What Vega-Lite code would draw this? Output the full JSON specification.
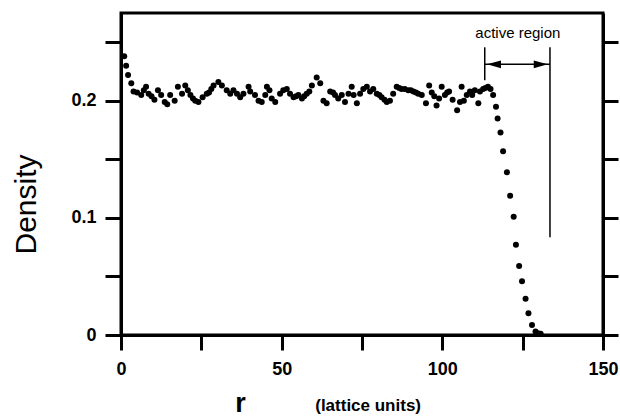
{
  "$schema": "https://vega.github.io/schema/vega-lite/v6.json",
  "width": 482,
  "height": 322,
  "autosize": {"type": "none"},
  "padding": {"left": 121, "top": 13, "right": 17, "bottom": 82},
  "background": "white",
  "config": {
    "font": "Liberation Sans",
    "view": {"stroke": "black", "strokeWidth": 3},
    "axis": {
      "grid": false,
      "domainColor": "black",
      "domainWidth": 3,
      "tickColor": "black",
      "tickWidth": 3,
      "tickSize": 15,
      "labelFont": "Liberation Sans",
      "labelFontWeight": "bold",
      "labelFontSize": 18,
      "labelColor": "black",
      "titleFont": "Liberation Sans",
      "titleColor": "black"
    }
  },
  "datasets": {
    "density": [
      {"r": 1.0, "density": 0.238}, {"r": 1.6, "density": 0.230}, {"r": 2.2, "density": 0.222}, {"r": 3.2, "density": 0.215},
      {"r": 3.9, "density": 0.208}, {"r": 5.0, "density": 0.207}, {"r": 6.3, "density": 0.205}, {"r": 7.1, "density": 0.209},
      {"r": 7.8, "density": 0.212}, {"r": 8.6, "density": 0.206}, {"r": 9.5, "density": 0.204}, {"r": 10.4, "density": 0.201},
      {"r": 11.5, "density": 0.209}, {"r": 12.5, "density": 0.205}, {"r": 13.6, "density": 0.199}, {"r": 14.4, "density": 0.197},
      {"r": 15.3, "density": 0.205}, {"r": 16.7, "density": 0.200}, {"r": 17.7, "density": 0.212}, {"r": 19.0, "density": 0.206},
      {"r": 20.0, "density": 0.213}, {"r": 20.8, "density": 0.209}, {"r": 21.6, "density": 0.205}, {"r": 22.4, "density": 0.202},
      {"r": 23.1, "density": 0.200}, {"r": 24.1, "density": 0.199}, {"r": 25.4, "density": 0.203}, {"r": 26.7, "density": 0.206},
      {"r": 27.4, "density": 0.207}, {"r": 28.1, "density": 0.210}, {"r": 28.8, "density": 0.213}, {"r": 30.3, "density": 0.216},
      {"r": 31.4, "density": 0.213}, {"r": 32.9, "density": 0.209}, {"r": 34.0, "density": 0.206}, {"r": 35.0, "density": 0.209},
      {"r": 36.1, "density": 0.206}, {"r": 37.1, "density": 0.203}, {"r": 38.1, "density": 0.206}, {"r": 39.7, "density": 0.212},
      {"r": 40.2, "density": 0.208}, {"r": 41.7, "density": 0.205}, {"r": 42.8, "density": 0.200}, {"r": 43.8, "density": 0.199},
      {"r": 44.9, "density": 0.205}, {"r": 45.4, "density": 0.212}, {"r": 46.2, "density": 0.209}, {"r": 46.9, "density": 0.202},
      {"r": 48.0, "density": 0.199}, {"r": 49.5, "density": 0.206}, {"r": 50.5, "density": 0.209}, {"r": 51.6, "density": 0.210},
      {"r": 52.6, "density": 0.206}, {"r": 53.7, "density": 0.203}, {"r": 54.5, "density": 0.204}, {"r": 55.2, "density": 0.205},
      {"r": 56.3, "density": 0.202}, {"r": 57.0, "density": 0.204}, {"r": 57.8, "density": 0.206}, {"r": 58.6, "density": 0.208},
      {"r": 59.4, "density": 0.213}, {"r": 60.9, "density": 0.220}, {"r": 62.0, "density": 0.215}, {"r": 63.0, "density": 0.200},
      {"r": 64.0, "density": 0.198}, {"r": 65.1, "density": 0.208}, {"r": 66.0, "density": 0.207}, {"r": 66.6, "density": 0.205},
      {"r": 67.6, "density": 0.202}, {"r": 68.7, "density": 0.205}, {"r": 69.7, "density": 0.199}, {"r": 70.8, "density": 0.206},
      {"r": 71.8, "density": 0.212}, {"r": 72.4, "density": 0.205}, {"r": 73.4, "density": 0.198}, {"r": 74.4, "density": 0.206},
      {"r": 75.4, "density": 0.210}, {"r": 76.5, "density": 0.212}, {"r": 77.5, "density": 0.208}, {"r": 78.5, "density": 0.210},
      {"r": 79.6, "density": 0.206}, {"r": 80.4, "density": 0.205}, {"r": 81.1, "density": 0.203}, {"r": 82.0, "density": 0.201},
      {"r": 82.7, "density": 0.199}, {"r": 83.7, "density": 0.200}, {"r": 84.7, "density": 0.206}, {"r": 85.8, "density": 0.212},
      {"r": 86.6, "density": 0.211}, {"r": 87.3, "density": 0.210}, {"r": 88.3, "density": 0.210}, {"r": 89.4, "density": 0.209},
      {"r": 90.2, "density": 0.209}, {"r": 91.0, "density": 0.208}, {"r": 91.8, "density": 0.207}, {"r": 92.5, "density": 0.206},
      {"r": 93.6, "density": 0.205}, {"r": 94.9, "density": 0.198}, {"r": 95.9, "density": 0.213}, {"r": 96.7, "density": 0.207},
      {"r": 97.5, "density": 0.204}, {"r": 98.2, "density": 0.196}, {"r": 99.0, "density": 0.202}, {"r": 99.8, "density": 0.212},
      {"r": 100.8, "density": 0.205}, {"r": 101.5, "density": 0.207}, {"r": 102.1, "density": 0.208}, {"r": 103.2, "density": 0.201},
      {"r": 104.6, "density": 0.192}, {"r": 105.5, "density": 0.199}, {"r": 106.0, "density": 0.212}, {"r": 106.7, "density": 0.200},
      {"r": 107.6, "density": 0.205}, {"r": 108.6, "density": 0.208}, {"r": 109.3, "density": 0.205}, {"r": 110.1, "density": 0.209},
      {"r": 111.2, "density": 0.198}, {"r": 111.7, "density": 0.208}, {"r": 112.7, "density": 0.210}, {"r": 113.4, "density": 0.211},
      {"r": 114.2, "density": 0.212}, {"r": 115.0, "density": 0.210}, {"r": 115.8, "density": 0.205}, {"r": 116.7, "density": 0.195},
      {"r": 117.2, "density": 0.185}, {"r": 118.1, "density": 0.173}, {"r": 118.9, "density": 0.157}, {"r": 120.1, "density": 0.139},
      {"r": 121.1, "density": 0.119}, {"r": 122.2, "density": 0.101}, {"r": 122.9, "density": 0.077}, {"r": 123.9, "density": 0.059},
      {"r": 124.8, "density": 0.046}, {"r": 125.9, "density": 0.031}, {"r": 126.8, "density": 0.0185}, {"r": 127.9, "density": 0.0085},
      {"r": 129.0, "density": 0.003}, {"r": 129.8, "density": 0.0015}, {"r": 130.6, "density": 0.001}
    ],
    "vlines": [
      {"r": 113.2, "top": 0.2457, "bottom": 0.2176},
      {"r": 133.5, "top": 0.2457, "bottom": 0.0834}
    ],
    "arrow": [
      {"from": 113.2, "to": 133.5, "y": 0.2312}
    ],
    "heads": [
      {"r": 113.9, "y": 0.2312, "dir": "left"},
      {"r": 132.8, "y": 0.2312, "dir": "right"}
    ],
    "labels": [
      {"r": 123.5, "y": 0.2537, "label": "active region"}
    ],
    "units": [
      {"r": 76.9, "y": -0.0645, "label": "(lattice units)"}
    ]
  },
  "layer": [
    {
      "data": {"name": "density"},
      "mark": {"type": "point", "filled": true, "shape": "circle", "size": 36, "color": "black", "opacity": 1},
      "encoding": {
        "x": {
          "field": "r", "type": "quantitative",
          "scale": {"domain": [0, 150], "nice": false, "zero": false},
          "axis": {
            "orient": "bottom",
            "values": [0, 25, 50, 75, 100, 125, 150],
            "labelExpr": "datum.value % 50 == 0 ? datum.label : ''",
            "labelFlush": false,
            "labelOverlap": false,
            "labelPadding": 10,
            "tickSize": 15,
            "title": "r",
            "titleFontSize": 27,
            "titleFontWeight": "bold",
            "titleX": 119,
            "titleY": 76,
            "titleBaseline": "alphabetic",
            "titleAlign": "center"
          }
        },
        "y": {
          "field": "density", "type": "quantitative",
          "scale": {"domain": [0, 0.275], "nice": false, "zero": false},
          "axis": {
            "values": [0, 0.05, 0.1, 0.15, 0.2, 0.25],
            "labelExpr": "datum.value == 0 ? '0' : (datum.value == 0.1 || datum.value == 0.2) ? format(datum.value, '.1f') : ''",
            "labelOverlap": false,
            "labelPadding": 9,
            "tickSize": 16,
            "title": "Density",
            "titleFontSize": 30,
            "titleFontWeight": "normal",
            "titleAngle": 270,
            "titleX": -86,
            "titleY": 191,
            "titleBaseline": "alphabetic",
            "titleAlign": "center"
          }
        }
      }
    },
    {
      "data": {"name": "vlines"},
      "mark": {"type": "rule", "color": "black", "strokeWidth": 1.5},
      "encoding": {
        "x": {"field": "r", "type": "quantitative", "axis": null},
        "y": {
          "field": "top", "type": "quantitative",
          "axis": {
            "orient": "right",
            "values": [0, 0.05, 0.1, 0.15, 0.2, 0.25],
            "labels": false,
            "title": null,
            "tickSize": 15
          }
        },
        "y2": {"field": "bottom"}
      }
    },
    {
      "data": {"name": "arrow"},
      "mark": {"type": "rule", "color": "black", "strokeWidth": 1.5},
      "encoding": {
        "x": {"field": "from", "type": "quantitative", "axis": null},
        "x2": {"field": "to"},
        "y": {"field": "y", "type": "quantitative", "axis": null}
      }
    },
    {
      "data": {"name": "heads"},
      "mark": {"type": "point", "filled": true, "size": 196, "color": "black", "opacity": 1, "strokeWidth": 0},
      "encoding": {
        "x": {"field": "r", "type": "quantitative", "axis": null},
        "y": {"field": "y", "type": "quantitative", "axis": null},
        "shape": {
          "field": "dir", "type": "nominal", "legend": null,
          "scale": {"domain": ["left", "right"], "range": ["M 0 0 L 2 -0.55 L 2 0.55 Z", "M 0 0 L -2 -0.55 L -2 0.55 Z"]}
        }
      }
    },
    {
      "data": {"name": "labels"},
      "mark": {"type": "text", "color": "black", "fontSize": 15, "font": "Liberation Sans", "align": "center", "baseline": "alphabetic"},
      "encoding": {
        "x": {"field": "r", "type": "quantitative", "axis": null},
        "y": {"field": "y", "type": "quantitative", "axis": null},
        "text": {"field": "label"}
      }
    },
    {
      "data": {"name": "units"},
      "mark": {"type": "text", "color": "black", "fontSize": 17, "fontWeight": "bold", "font": "Liberation Sans", "align": "center", "baseline": "alphabetic"},
      "encoding": {
        "x": {"field": "r", "type": "quantitative", "axis": null},
        "y": {"field": "y", "type": "quantitative", "axis": null},
        "text": {"field": "label"}
      }
    }
  ],
  "resolve": {"axis": {"x": "independent", "y": "independent"}}
}
